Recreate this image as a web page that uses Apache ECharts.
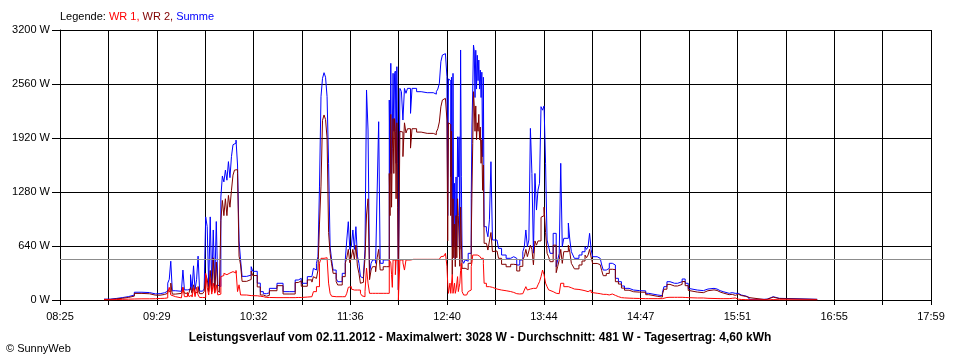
<!DOCTYPE html>
<html>
<head>
<meta charset="utf-8">
<script src="https://cdn.jsdelivr.net/npm/echarts@6/dist/echarts.min.js"></script>
<style>html,body{margin:0;padding:0;background:#fff;}#c{width:960px;height:360px;}</style>
</head>
<body>
<div id="c"></div>
<script>
// ---- data ----
const xTickLabels = ['08:25','09:29','10:32','11:36','12:40','13:44','14:47','15:51','16:55','17:59'];
const yMax = 3200, yStep = 640;
const avgValue = 481;
const legendText = ['Legende: ', 'WR 1,', ' WR 2,', ' Summe'];
const titleText = 'Leistungsverlauf vom 02.11.2012 - Maximalwert: 3028 W - Durchschnitt: 481 W - Tagesertrag: 4,60 kWh';
const creditText = '\u00A9 SunnyWeb';

const times = [
"08:54","08:58","09:02","09:06","09:10","09:14","09:19","09:24","09:28","09:31",
"09:34","09:36","09:37","09:38","09:39","09:41","09:45","09:46","09:47","09:49",
"09:50","09:51","09:52","09:53","09:54","09:55","09:56","09:57","09:59","10:00",
"10:01","10:02","10:03","10:04","10:05","10:06","10:07","10:08","10:09","10:10",
"10:11","10:12","10:13","10:14","10:15","10:16","10:17","10:18","10:19","10:20",
"10:21","10:22","10:23","10:24","10:25","10:28","10:31","10:32","10:35","10:37",
"10:39","10:41","10:43","10:48","10:52","10:56","11:00","11:02","11:04","11:08",
"11:11","11:12","11:13","11:14","11:15","11:16","11:17","11:18","11:19","11:20",
"11:21","11:22","11:23","11:24","11:25","11:27","11:28","11:31","11:33","11:34",
"11:35","11:36","11:37","11:38","11:39","11:40","11:41","11:42","11:43","11:44",
"11:45","11:46","11:47","11:48","11:49","11:50","11:51","11:53","11:54","11:55",
"11:56","11:58","12:00","12:01",
"12:02:00","12:02:30","12:03:00","12:03:30","12:04:00","12:04:30","12:05:00","12:05:30","12:06:00","12:06:30",
"12:07:00","12:07:30","12:08:00",
"12:09","12:10","12:11","12:12","12:13","12:14","12:16","12:17","12:18",
"12:20","12:23","12:27","12:31","12:33","12:34","12:35","12:36","12:37","12:38",
"12:39",
"12:40:00","12:40:30","12:41:00","12:42:00","12:42:30","12:43:00","12:43:30","12:44:00","12:44:30","12:45:00",
"12:45:30","12:46:00","12:46:30","12:47:00","12:47:30","12:48:00","12:48:30","12:49:00","12:49:30",
"12:50","12:51","12:52","12:53","12:54","12:55",
"12:56:00","12:56:30","12:57:00","12:57:30","12:58:00","12:58:30","12:59:00","12:59:30","13:00:00","13:00:30",
"13:01:00","13:01:30","13:02:00","13:02:30","13:03:00","13:03:30","13:04:00","13:04:30",
"13:05","13:06","13:07","13:08",
"13:09","13:10","13:11","13:13","13:14","13:16","13:19","13:22","13:24","13:26",
"13:28","13:30","13:31","13:32","13:33","13:34","13:35","13:36","13:37","13:38",
"13:39","13:40","13:41","13:42","13:43","13:44","13:45","13:46","13:47","13:48",
"13:50","13:52","13:53","13:54","13:55","13:56","13:57","14:00","14:01","14:02",
"14:03","14:04","14:07","14:09","14:11","14:12","14:13","14:14","14:15","14:16",
"14:19","14:21","14:22","14:23","14:25","14:27","14:29","14:31","14:33","14:35",
"14:37","14:40","14:43","14:47","14:51","14:53","14:59","15:02","15:03","15:05",
"15:07","15:10","15:12","15:15","15:17","15:19","15:20","15:25","15:29","15:32",
"15:36","15:38","15:40","15:42","15:46","15:48","15:50","15:52","15:54","15:57",
"15:59","16:09","16:11","16:13","16:15","16:19","16:44"
];

const summe = [
10,18,28,40,58,92,88,72,75,86,
105,200,245,460,110,103,110,355,120,140,
125,300,115,405,125,240,520,105,115,130,
985,870,160,985,165,830,170,930,175,160,
1220,1470,1400,1540,1420,1640,1450,1700,1840,1860,
1895,1600,700,475,280,295,395,340,200,99,
75,85,138,198,99,99,237,257,198,277,
257,375,355,435,513,1340,2410,2627,2694,2640,
2410,1620,632,474,355,257,217,316,474,711,
928,600,640,830,600,869,520,435,277,260,
300,600,2489,2015,320,435,474,435,1284,2113,
435,474,455,474,
2370,1500,2805,1500,2015,2687,2000,2687,2713,1620,
2765,1620,120,
2508,2470,2133,2508,2450,2508,2212,2508,2508,
2469,2457,2457,2440,2469,2500,2568,2824,2903,2920,
2943,
2646,1000,2620,2600,1461,2640,632,2686,632,1383,
474,1458,640,1935,1458,1935,600,2963,1460,
474,435,474,460,553,553,
1200,2074,2489,3022,2950,2400,2960,2500,2900,2600,
2844,2500,2725,2400,2700,1698,2640,869,
869,830,750,950,
1639,711,711,711,612,533,494,513,494,415,
474,572,632,830,632,711,2034,1500,555,1500,
1066,1303,1383,2291,2250,2300,1620,711,632,553,
790,395,474,553,1620,632,731,912,711,572,
533,494,533,572,632,600,632,790,600,513,
494,474,415,355,375,435,415,257,217,166,
138,118,111,108,79,59,51,87,158,217,
198,198,217,249,198,138,118,111,130,138,
130,111,99,79,87,79,79,59,47,32,
8,10,24,39,20,8,8
];

const wr1 = [
3,5,8,10,12,14,14,15,18,20,
25,85,150,60,40,25,28,150,40,90,
40,60,35,140,40,150,60,30,25,28,
316,150,60,250,70,200,80,180,60,70,
277,290,316,300,310,320,300,336,356,320,
350,100,180,60,59,52,52,50,45,40,
30,30,28,28,28,28,30,30,35,39,
45,99,99,158,158,435,494,494,501,501,
494,200,79,45,39,39,39,39,39,80,
150,158,130,118,118,118,118,118,79,50,
39,100,379,200,79,79,79,100,79,79,
79,79,79,79,
474,474,440,300,150,474,474,474,300,474,
474,474,0,
474,474,440,355,474,474,474,482,482,
482,482,482,482,482,482,500,513,520,513,
553,
400,200,79,200,79,79,300,79,79,200,
79,118,118,277,100,150,200,350,435,
100,59,59,79,100,118,
395,450,533,533,533,533,533,533,533,520,
520,513,513,494,494,494,435,198,
198,158,158,158,
150,138,130,125,118,110,100,90,75,71,
75,90,118,158,118,130,138,138,138,138,
150,180,217,277,355,300,200,158,120,99,
80,71,75,80,198,198,158,158,145,138,
130,125,118,110,100,99,99,118,90,80,
75,70,67,67,60,71,55,40,28,25,
22,20,18,16,16,16,16,20,30,32,
32,32,32,30,28,24,24,24,20,18,
17,16,16,16,20,24,10,6,4,3,
2,2,3,5,3,1,1
];

const wr2 = [
7,13,20,30,46,78,74,57,57,66,
80,115,95,200,70,78,82,150,80,50,
85,150,80,180,85,90,160,75,90,102,
300,250,100,350,95,500,90,450,115,90,
940,1180,1000,1200,1000,1240,1100,1300,1480,1540,
1545,1500,520,415,221,243,343,290,155,59,
45,55,110,170,71,71,207,227,163,238,
212,276,256,277,355,900,1350,2130,2193,2139,
1915,800,553,429,316,218,178,277,435,500,
600,442,510,600,482,650,402,317,198,210,
261,500,1007,1200,241,356,395,335,500,600,
356,395,376,395,
1500,1000,2200,1100,1800,2150,1500,2150,2000,1200,
2100,1100,120,
2000,1990,1700,2100,1980,2030,1800,2030,2030,
1990,1975,1975,1960,1990,2030,2110,2290,2370,2390,
2390,
2133,700,2100,2080,1000,2000,300,1200,500,900,
395,1000,500,1200,1000,1000,400,1100,700,
374,376,395,360,435,435,
700,1300,1857,2469,2300,2000,2300,1900,2100,2000,
2200,1900,2050,1620,1900,1300,1600,672,
672,672,592,700,
800,573,581,586,494,423,394,423,419,344,
399,482,514,600,514,581,650,600,417,700,
650,700,700,980,1000,1100,800,553,512,454,
650,324,399,473,600,434,573,650,566,434,
403,369,415,462,532,501,533,600,510,433,
419,404,348,288,315,364,360,217,189,141,
116,98,93,92,63,43,35,67,128,185,
166,166,185,219,170,114,94,87,110,120,
113,95,83,63,67,55,69,53,43,29,
6,8,21,34,17,7,7
];

// ---- helpers ----
const UNIT = 9; // sub-units per minute so that grid spacing is an integer
function toMin(s){ const p = s.split(':'); return (+p[0]) * 60 + (+p[1]) + (p[2] ? (+p[2]) / 60 : 0); }
const t0 = toMin(xTickLabels[0]);
const span = (toMin(xTickLabels[xTickLabels.length - 1]) - t0) * UNIT;
const nTicks = (xTickLabels.length - 1) * 2;
const xStep = span / nTicks;
function pts(vals){ return times.map((t, i) => [(toMin(t) - t0) * UNIT, vals[i]]); }

const FONT = '"Liberation Sans", Arial, sans-serif';
const chart = echarts.init(document.getElementById('c'), null, {renderer: 'canvas'});

function line(name, color, vals, z, extra){
  return Object.assign({
    name: name, type: 'line', data: pts(vals), step: 'end', showSymbol: false, symbol: 'none',
    lineStyle: {color: color, width: 1}, itemStyle: {color: color}, z: z, silent: true, animation: false
  }, extra || {});
}

chart.setOption({
  animation: false,
  backgroundColor: '#ffffff',
  textStyle: {fontFamily: FONT},
  grid: {left: 60, right: 29, top: 30, bottom: 60, containLabel: false},
  title: [
    {
      text: '{k|' + legendText[0] + '}{r|' + legendText[1] + '}{d|' + legendText[2] + '}{b|' + legendText[3] + '}',
      left: 60, top: 11, padding: 0,
      textStyle: {fontSize: 11, fontWeight: 'normal', fontFamily: FONT, rich: {
        k: {color: '#000000', fontSize: 11, fontFamily: FONT},
        r: {color: '#ff0000', fontSize: 11, fontFamily: FONT},
        d: {color: '#800000', fontSize: 11, fontFamily: FONT},
        b: {color: '#0000ff', fontSize: 11, fontFamily: FONT}
      }}
    },
    {
      text: titleText, left: 'center', top: 332, padding: 0,
      textStyle: {fontSize: 12, fontWeight: 'bold', color: '#000000', fontFamily: FONT}
    },
    {
      text: creditText, left: 6, top: 343, padding: 0,
      textStyle: {fontSize: 11, fontWeight: 'normal', color: '#000000', fontFamily: FONT}
    }
  ],
  xAxis: {
    type: 'value', min: 0, max: span, interval: xStep,
    axisLine: {show: true, onZero: false, lineStyle: {color: '#000000', width: 1}},
    axisTick: {show: true, length: 5, lineStyle: {color: '#000000', width: 1}},
    axisLabel: {
      show: true, margin: 11, fontSize: 11, color: '#000000', fontFamily: FONT,
      showMinLabel: true, showMaxLabel: true, hideOverlap: false,
      formatter: function (v) {
        const i = Math.round(v / xStep);
        return (i % 2 === 0) ? (xTickLabels[i / 2] || '') : '';
      }
    },
    splitLine: {show: true, lineStyle: {color: '#000000', width: 1}}
  },
  yAxis: {
    type: 'value', min: 0, max: yMax, interval: yStep,
    axisLine: {show: true, lineStyle: {color: '#000000', width: 1}},
    axisTick: {show: true, length: 8, lineStyle: {color: '#000000', width: 1}},
    axisLabel: {show: true, margin: 10, fontSize: 11, color: '#000000', fontFamily: FONT,
      formatter: function (v) { return String(v) + ' W'; }},
    splitLine: {show: true, lineStyle: {color: '#000000', width: 1}}
  },
  series: [
    line('Summe', '#0000ff', summe, 2, {
      markLine: {
        silent: true, symbol: ['none', 'none'], label: {show: false},
        lineStyle: {color: '#8c8c8c', width: 1, type: 'solid'},
        data: [{yAxis: avgValue}]
      }
    }),
    line('WR 2', '#800000', wr2, 3),
    line('WR 1', '#ff0000', wr1, 4)
  ]
});
</script>
</body>
</html>
